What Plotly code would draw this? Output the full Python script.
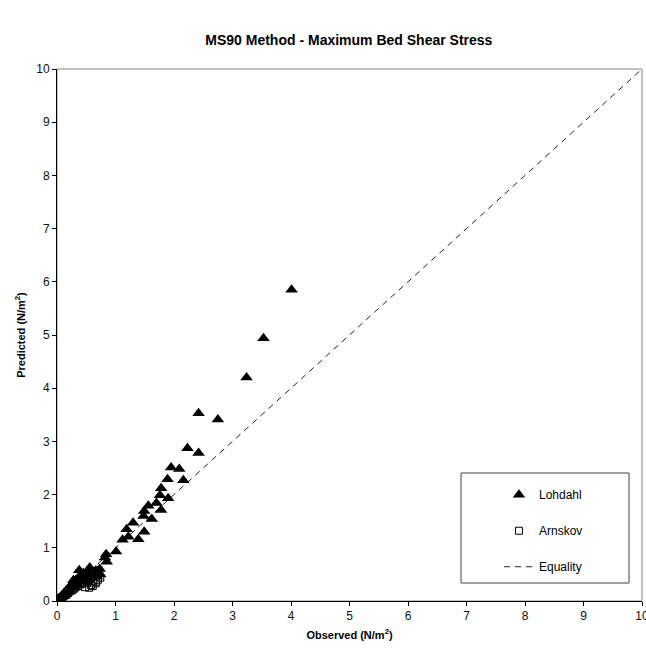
import plotly.graph_objects as go

# Lohdahl (observed, predicted)
lohdahl_obs = [4.01, 3.53, 3.24, 2.42, 2.75, 2.23, 2.42, 1.95, 2.09, 2.16, 1.89, 1.78, 1.76,
               1.90, 1.56, 1.49, 1.70, 1.78, 1.48, 1.62, 1.30, 1.49, 1.19, 1.22, 1.39, 1.12,
               1.01, 0.84, 0.82, 0.85, 0.38, 0.56, 0.73, 0.68, 0.51, 0.28,
               0.01, 0.02, 0.03, 0.05, 0.06, 0.08, 0.09, 0.11, 0.12, 0.14, 0.15, 0.17, 0.18,
               0.20, 0.22, 0.23, 0.25, 0.27, 0.29, 0.31, 0.33, 0.35, 0.37, 0.40, 0.42, 0.45,
               0.47, 0.52, 0.55, 0.60, 0.63, 0.66, 0.70, 0.74, 0.20, 0.28, 0.13, 0.35]
lohdahl_pred = [5.85, 4.94, 4.20, 3.53, 3.41, 2.87, 2.78, 2.51, 2.48, 2.27, 2.29, 2.12, 1.99,
                1.93, 1.79, 1.69, 1.84, 1.71, 1.60, 1.54, 1.47, 1.30, 1.35, 1.21, 1.16, 1.15,
                0.93, 0.88, 0.82, 0.74, 0.58, 0.63, 0.60, 0.46, 0.46, 0.39,
                0.01, 0.02, 0.04, 0.05, 0.07, 0.09, 0.11, 0.12, 0.15, 0.16, 0.18, 0.20, 0.22,
                0.23, 0.26, 0.28, 0.30, 0.33, 0.35, 0.38, 0.40, 0.36, 0.44, 0.47, 0.50, 0.52,
                0.40, 0.55, 0.50, 0.48, 0.52, 0.57, 0.55, 0.50, 0.18, 0.27, 0.10, 0.30]

# Arnskov (observed, predicted)
arnskov_obs = [0.02, 0.04, 0.06, 0.08, 0.10, 0.12, 0.14, 0.17, 0.19, 0.22, 0.25, 0.28, 0.30,
               0.33, 0.36, 0.40, 0.43, 0.46, 0.50, 0.53, 0.56, 0.58, 0.60, 0.62, 0.64, 0.66,
               0.68, 0.70, 0.72, 0.74, 0.55, 0.61, 0.67, 0.71, 0.48, 0.52]
arnskov_pred = [0.01, 0.03, 0.05, 0.07, 0.08, 0.10, 0.11, 0.14, 0.15, 0.18, 0.20, 0.22, 0.24,
                0.27, 0.28, 0.31, 0.33, 0.35, 0.38, 0.40, 0.42, 0.30, 0.45, 0.37, 0.48, 0.33,
                0.52, 0.40, 0.55, 0.44, 0.25, 0.28, 0.36, 0.58, 0.26, 0.34]

equality = [0, 10]

FONT = "Liberation Sans, Arial, sans-serif"

fig = go.Figure()
fig.add_trace(go.Scatter(
    x=equality, y=equality, mode="lines", name="Equality",
    line=dict(color="#222222", width=1, dash="6px,5px"),
    legendgroup="c", legendrank=3, hoverinfo="skip"))
fig.add_trace(go.Scatter(
    x=arnskov_obs, y=arnskov_pred, mode="markers", name="Arnskov",
    marker=dict(symbol="square-open", size=7, color="black", line=dict(width=1, color="black")),
    legendgroup="b", legendrank=2))
fig.add_trace(go.Scatter(
    x=lohdahl_obs, y=lohdahl_pred, mode="markers", name="Lohdahl",
    marker=dict(symbol="triangle-up", size=11, color="black", line=dict(width=0)),
    legendgroup="a", legendrank=1))

axis_common = dict(
    range=[0, 10], dtick=1, tick0=0, showgrid=False, zeroline=False,
    showline=True, linecolor="black", linewidth=1,
    ticks="outside", ticklen=4, tickcolor="black", tickwidth=1,
    ticklabeloverflow="allow", automargin=False,
    tickfont=dict(family=FONT, size=12, color="#111111"),
)

fig.update_layout(
    width=646, height=655,
    margin=dict(l=57, r=4, t=69, b=54, autoexpand=False),
    paper_bgcolor="white", plot_bgcolor="white",
    title=dict(text="<b>MS90 Method - Maximum Bed Shear Stress</b>",
               font=dict(family=FONT, size=14, color="black"),
               x=0.54, xanchor="center", y=1 - 40 / 655, yanchor="middle"),
    xaxis=dict(**axis_common,
               title=dict(text="<b>Observed (N/m<sup>2</sup>)</b>",
                          font=dict(family=FONT, size=11, color="black"), standoff=8)),
    yaxis=dict(**axis_common,
               title=dict(text="<b>Predicted (N/m<sup>2</sup>)</b>",
                          font=dict(family=FONT, size=11, color="black"), standoff=8)),
    showlegend=True,
    legend=dict(x=0.7555, y=0.227, xanchor="left", yanchor="top",
                bgcolor="rgba(0,0,0,0)", borderwidth=0,
                tracegroupgap=17, traceorder="grouped",
                font=dict(family=FONT, size=12, color="black")),
    shapes=[
        dict(type="rect", xref="paper", yref="paper", x0=0, x1=1, y0=0, y1=1,
             line=dict(color="#888888", width=1), layer="below"),
        dict(type="rect", xref="paper", yref="paper", x0=0.6906, x1=0.9778,
             y0=0.0338, y1=0.2406, line=dict(color="#444444", width=1),
             fillcolor="white", layer="below"),
    ],
)

fig.write_html("out.html")
